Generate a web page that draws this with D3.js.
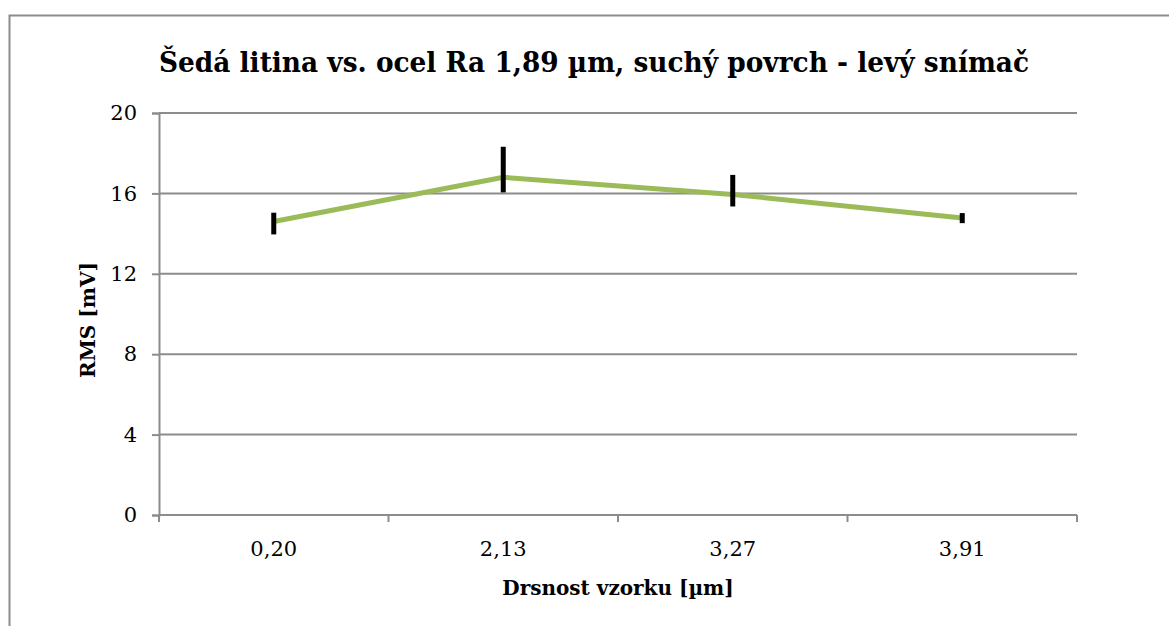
<!DOCTYPE html>
<html>
<head>
<meta charset="utf-8">
<script src="https://cdn.jsdelivr.net/npm/d3@7"></script>
<style>
  body { margin: 0; background: #fff; }
</style>
</head>
<body>
<div id="chart"></div>
<script>
// data
const categories = ['0,20', '2,13', '3,27', '3,91'];
const rmsValues = [14.6, 16.8, 15.95, 14.78];
const errPlus = [0.44, 1.52, 0.97, 0.24];
const errMinus = [0.64, 0.75, 0.6, 0.26];
const yTicks = [0, 4, 8, 12, 16, 20];

const width = 1169, height = 626;
const margin = { left: 159, right: 92, top: 113, bottom: 111 };
const serif = "'DejaVu Serif', serif";

const svg = d3.select('#chart')
  .append('svg')
  .attr('width', width)
  .attr('height', height);

// chart frame
svg.append('rect')
  .attr('x', 9.5)
  .attr('y', 15.5)
  .attr('width', width + 20)
  .attr('height', height + 20)
  .style('fill', 'none')
  .style('stroke', '#8c8c8c')
  .style('stroke-width', 2);

const x = d3.scaleBand()
  .domain(categories)
  .range([margin.left, width - margin.right]);

const y = d3.scaleLinear()
  .domain([0, 20])
  .range([height - margin.bottom, margin.top]);

// gridlines
svg.append('g')
  .selectAll('line')
  .data(yTicks.filter(d => d > 0))
  .enter()
  .append('line')
  .attr('x1', margin.left)
  .attr('x2', width - margin.right)
  .attr('y1', d => y(d))
  .attr('y2', d => y(d))
  .style('stroke', '#8c8c8c')
  .style('stroke-width', 2);

// Y axis
const yAxis = svg.append('g')
  .attr('transform', `translate(${margin.left}, 0)`)
  .call(d3.axisLeft(y).tickValues(yTicks).tickSize(7).tickPadding(15));
yAxis.attr('font-family', null);
yAxis.select('.domain').style('stroke', '#8c8c8c').style('stroke-width', 2);
yAxis.selectAll('.tick line').style('stroke', '#8c8c8c').style('stroke-width', 2);
yAxis.selectAll('.tick text')
  .style('font-family', serif)
  .style('font-size', '21px')
  .style('fill', '#000');

// X axis - ticks at band boundaries
const xAxis = svg.append('g')
  .attr('transform', `translate(0, ${y(0)})`);
xAxis.append('line')
  .attr('x1', margin.left)
  .attr('x2', width - margin.right)
  .style('stroke', '#8c8c8c')
  .style('stroke-width', 2);
const bounds = categories.map(c => x(c)).concat([x(categories[categories.length - 1]) + x.bandwidth()]);
xAxis.selectAll('line.tk')
  .data(bounds)
  .enter()
  .append('line')
  .attr('class', 'tk')
  .attr('x1', d => d)
  .attr('x2', d => d)
  .attr('y1', 0)
  .attr('y2', 7)
  .style('stroke', '#8c8c8c')
  .style('stroke-width', 2);
xAxis.selectAll('text')
  .data(categories)
  .enter()
  .append('text')
  .attr('x', d => x(d) + x.bandwidth() / 2)
  .attr('y', 41)
  .style('text-anchor', 'middle')
  .style('font-family', serif)
  .style('font-size', '21px')
  .text(d => d);

// line
const line = d3.line()
  .x((d, i) => x(categories[i]) + x.bandwidth() / 2)
  .y(d => y(d));

svg.append('path')
  .datum(rmsValues)
  .attr('d', line)
  .style('fill', 'none')
  .style('stroke', '#9bbb59')
  .style('stroke-width', 5);

// error bars
svg.selectAll('line.err')
  .data(rmsValues)
  .enter()
  .append('line')
  .attr('class', 'err')
  .attr('x1', (d, i) => x(categories[i]) + x.bandwidth() / 2)
  .attr('x2', (d, i) => x(categories[i]) + x.bandwidth() / 2)
  .attr('y1', (d, i) => y(d + errPlus[i]))
  .attr('y2', (d, i) => y(d - errMinus[i]))
  .style('stroke', '#000')
  .style('stroke-width', 5);

// title
svg.append('text')
  .attr('x', 594)
  .attr('y', 72)
  .style('text-anchor', 'middle')
  .style('font-family', serif)
  .style('font-size', '27px')
  .style('font-weight', 'bold')
  .attr('textLength', 870)
  .attr('lengthAdjust', 'spacingAndGlyphs')
  .text('Šedá litina vs. ocel Ra 1,89 µm, suchý povrch - levý snímač');

// axis titles
svg.append('text')
  .attr('x', 618)
  .attr('y', 595)
  .style('text-anchor', 'middle')
  .style('font-family', serif)
  .style('font-size', '20px')
  .style('font-weight', 'bold')
  .text('Drsnost vzorku [µm]');

svg.append('text')
  .attr('transform', 'rotate(-90)')
  .attr('x', -320)
  .attr('y', 95)
  .style('text-anchor', 'middle')
  .style('font-family', serif)
  .style('font-size', '20px')
  .style('font-weight', 'bold')
  .text('RMS [mV]');
</script>
</body>
</html>
